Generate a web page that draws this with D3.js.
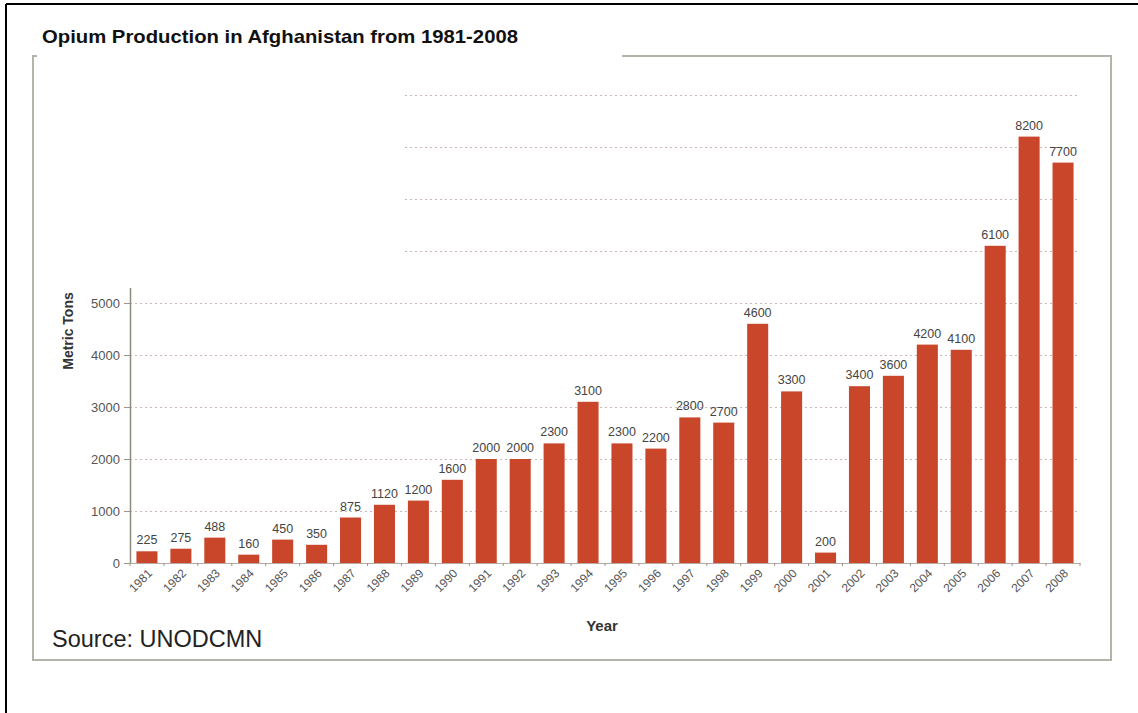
<!DOCTYPE html>
<html>
<head>
<meta charset="utf-8">
<script src="https://cdn.jsdelivr.net/npm/d3@7"></script>
<style>
  html, body { margin: 0; padding: 0; background: #fff; }
  svg { display: block; }
</style>
</head>
<body>
<svg id="chart" width="1138" height="713"></svg>
<script>
const years = ["1981","1982","1983","1984","1985","1986","1987","1988","1989","1990","1991","1992","1993","1994","1995","1996","1997","1998","1999","2000","2001","2002","2003","2004","2005","2006","2007","2008"];
const tons = [225,275,488,160,450,350,875,1120,1200,1600,2000,2000,2300,3100,2300,2200,2800,2700,4600,3300,200,3400,3600,4200,4100,6100,8200,7700];
const yTicks = [0,1000,2000,3000,4000,5000];
const upperGrid = [6000,7000,8000,9000];
const titleText = "Opium Production in Afghanistan from 1981-2008";
const yTitle = "Metric Tons";
const xTitle = "Year";
const sourceText = "Source: UNODCMN";

const svg = d3.select("#chart");
const X0 = 130, X1 = 1080, Y0 = 563;

const x = d3.scaleBand().domain(years).range([X0, X1]).paddingInner(0.38).paddingOuter(0.19);
const y = d3.scaleLinear().domain([0, 9000]).range([Y0, 95]);
const yAxisScale = y.copy().domain([0, 5300]).range([y(0), y(5300)]);

// outer black border (left and top)
svg.append("line").attr("x1", 6).attr("x2", 1138).attr("y1", 4).attr("y2", 4).attr("stroke", "#000").attr("stroke-width", 2);
svg.append("line").attr("x1", 6).attr("x2", 6).attr("y1", 4).attr("y2", 713).attr("stroke", "#000").attr("stroke-width", 2);

// gray frame
const fr = svg.append("g").attr("fill", "none").attr("stroke", "#b4b4aa").attr("stroke-width", 2);
fr.append("path").attr("d", "M37,56 H33 V660 H1111 V56 H622");

// title
svg.append("text").attr("x", 42).attr("y", 43)
  .attr("font-family", "'Liberation Sans Narrow', 'Liberation Sans', Arial, sans-serif")
  .attr("font-weight", "bold").attr("font-size", 19).attr("fill", "#111")
  .attr("textLength", 476).attr("lengthAdjust", "spacingAndGlyphs")
  .text(titleText);

// gridlines
const grid = svg.append("g").attr("stroke", "#cdb6b6").attr("stroke-width", 1).attr("stroke-dasharray", "2,3");
grid.selectAll("line.lo").data(yTicks.filter(d => d > 0)).join("line")
  .attr("x1", X0).attr("x2", X1).attr("y1", d => Math.round(y(d)) + 0.5).attr("y2", d => Math.round(y(d)) + 0.5);
grid.selectAll("line.hi").data(upperGrid).join("line")
  .attr("x1", 405).attr("x2", X1).attr("y1", d => Math.round(y(d)) + 0.5).attr("y2", d => Math.round(y(d)) + 0.5);

// bars
svg.append("g").selectAll("rect").data(years).join("rect")
  .attr("x", d => x(d)).attr("width", x.bandwidth())
  .attr("y", (d, i) => y(tons[i])).attr("height", (d, i) => y(0) - y(tons[i]))
  .attr("fill", "#c9462b");

// value labels
svg.append("g").selectAll("text").data(years).join("text")
  .attr("x", d => x(d) + x.bandwidth() / 2)
  .attr("y", (d, i) => y(tons[i]) - 7)
  .attr("text-anchor", "middle")
  .attr("font-family", "'Liberation Sans', Arial, sans-serif").attr("font-size", 12.5).attr("fill", "#444")
  .text((d, i) => tons[i]);

// y axis
const yAxis = svg.append("g").attr("transform", `translate(${X0},0)`)
  .call(d3.axisLeft(yAxisScale).tickValues(yTicks).tickFormat(d3.format("d")).tickSize(6).tickPadding(4).tickSizeOuter(0));
yAxis.select(".domain").attr("stroke", "#8d8a7e").attr("stroke-width", 1.5);
yAxis.selectAll(".tick line").attr("stroke", "#9a968c");
yAxis.selectAll(".tick text").attr("font-family", "'Liberation Sans', Arial, sans-serif")
  .attr("font-size", 13).attr("fill", "#555");

// x axis
const xAxis = svg.append("g").attr("transform", `translate(0,${Y0})`)
  .call(d3.axisBottom(x).tickSize(0).tickPadding(0));
xAxis.select(".domain").attr("stroke", "#b5aba4").attr("stroke-width", 1.2);
xAxis.selectAll(".tick text")
  .attr("font-family", "'Liberation Sans', Arial, sans-serif").attr("font-size", 12).attr("fill", "#555")
  .attr("text-anchor", "end").attr("dy", null).attr("y", 0)
  .attr("transform", "translate(6,11) rotate(-45)");
// boundary ticks
const bounds = years.map(d => x(d) - x.step() * x.paddingInner() / 2).concat([X1]);
xAxis.selectAll("line.bt").data(bounds).join("line")
  .attr("x1", d => d).attr("x2", d => d).attr("y1", 0).attr("y2", 3)
  .attr("stroke", "#9a968c");

// axis titles
svg.append("text").attr("transform", "translate(73,331) rotate(-90)")
  .attr("text-anchor", "middle")
  .attr("font-family", "'Liberation Sans Narrow', 'Liberation Sans', Arial, sans-serif")
  .attr("font-weight", "bold").attr("font-size", 14).attr("fill", "#333")
  .text(yTitle);
svg.append("text").attr("x", 602).attr("y", 631).attr("text-anchor", "middle")
  .attr("font-family", "'Liberation Sans Narrow', 'Liberation Sans', Arial, sans-serif")
  .attr("font-weight", "bold").attr("font-size", 15).attr("fill", "#333")
  .text(xTitle);

// source
svg.append("text").attr("x", 52).attr("y", 647)
  .attr("font-family", "'Liberation Sans', Arial, sans-serif").attr("font-size", 23.5).attr("fill", "#222")
  .text(sourceText);
</script>
</body>
</html>
